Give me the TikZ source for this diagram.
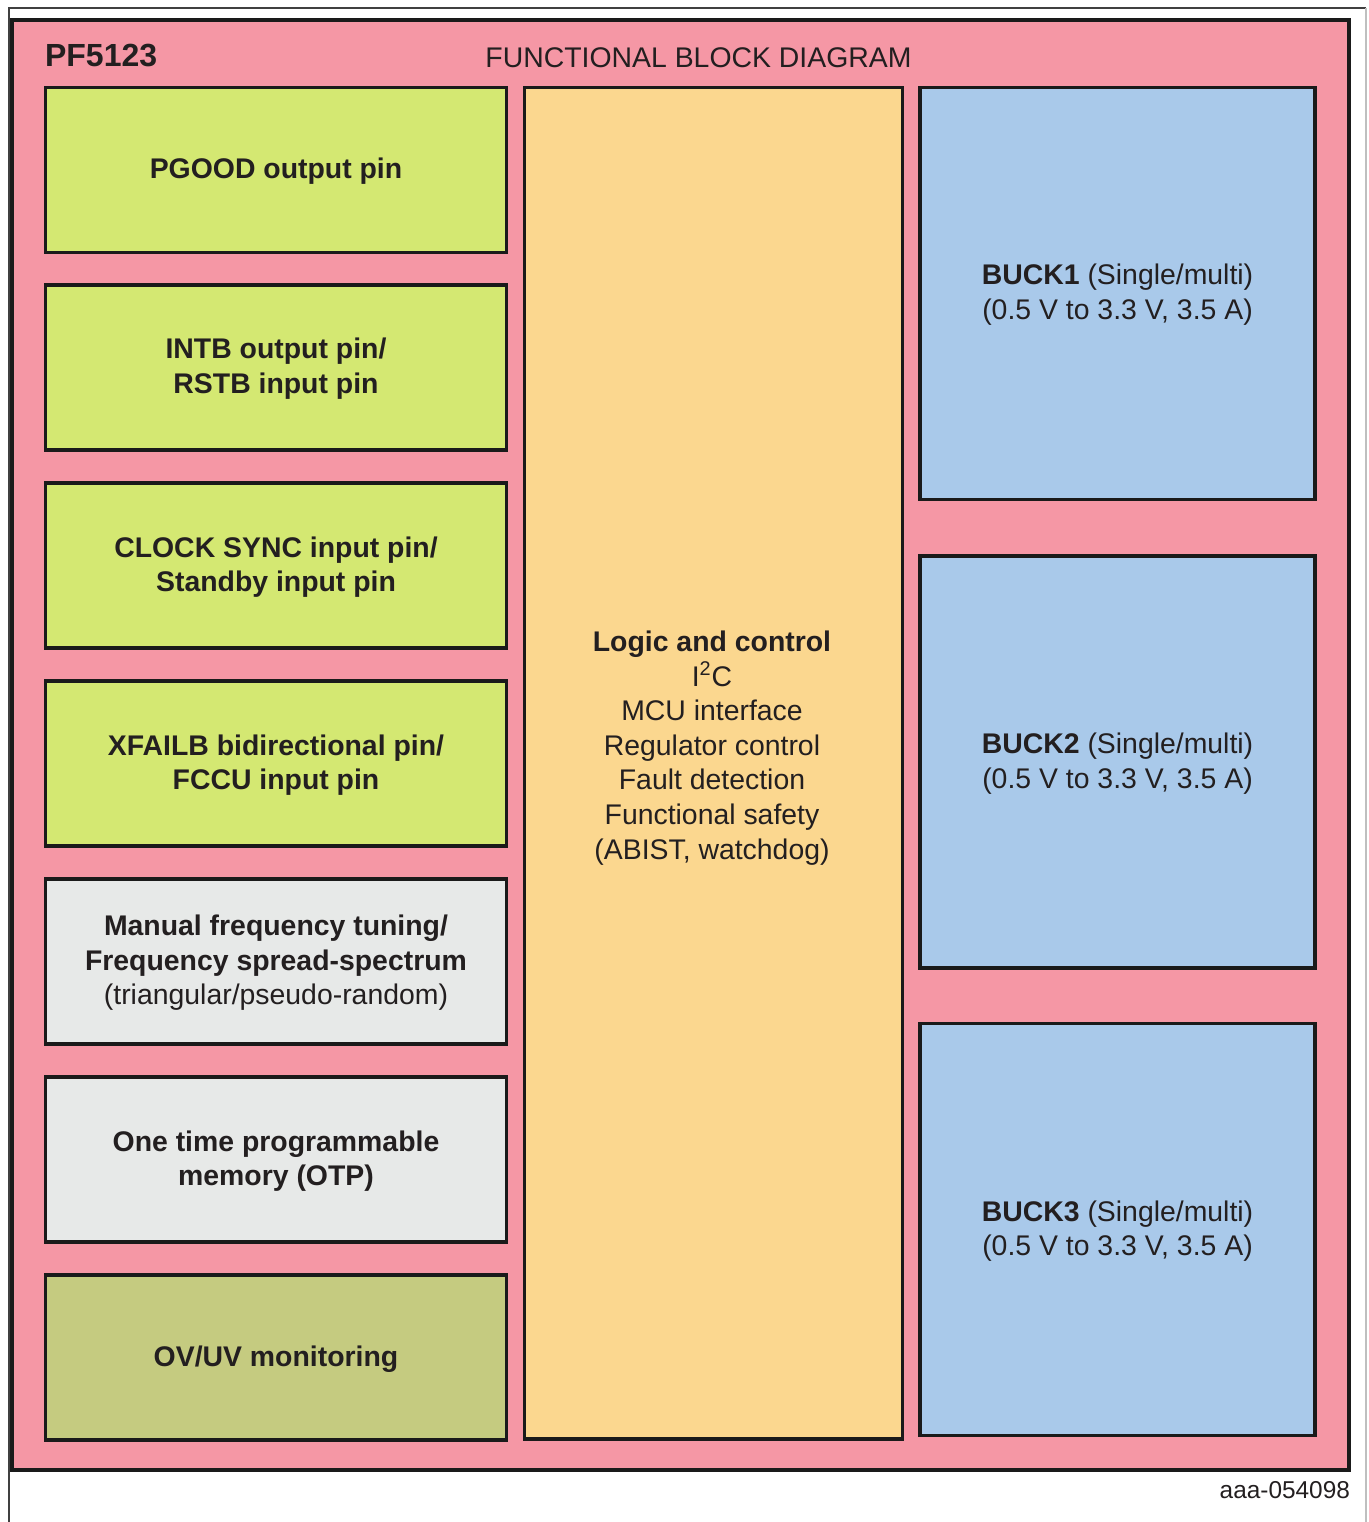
\documentclass[tikz,border=0pt]{standalone}
\usepackage{fontspec}
\setmainfont{Liberation Sans}
\usetikzlibrary{positioning,fit}

\definecolor{chippink}{HTML}{F597A5}
\definecolor{pingreen}{HTML}{D4E872}
\definecolor{logicorange}{HTML}{FBD78F}
\definecolor{buckblue}{HTML}{A9C9EA}
\definecolor{cfggrey}{HTML}{E7E9E8}
\definecolor{monolive}{HTML}{C5CB80}
\definecolor{edge}{HTML}{1A1A1A}
\definecolor{ink}{HTML}{231F20}

\tikzset{
  blk/.style={draw=edge,line width=1.6pt,inner sep=0pt,align=center,text=ink,
    font=\fontsize{14.2}{17.3}\selectfont,text depth=1.5pt},
  pinblk/.style={blk,fill=pingreen,minimum width=230.5pt,minimum height=82.5pt},
  cfgblk/.style={blk,fill=cfggrey,minimum width=230.5pt,minimum height=82.5pt},
  monblk/.style={blk,fill=monolive,minimum width=230.5pt,minimum height=82.5pt},
  buckblk/.style={blk,fill=buckblue,minimum width=197.5pt,minimum height=206pt},
  logicblk/.style={blk,fill=logicorange,minimum width=189pt,minimum height=675.75pt}
}

\begin{document}
\begin{tikzpicture}[x=0.5pt,y=-0.5pt]
\useasboundingbox (0,0) rectangle (1369,1522);

% frame of the figure
\draw[draw=black!75,line width=0.8pt] (9,1522) -- (9,8) -- (1366,8);
\draw[draw=black!25,line width=0.6pt] (1366,8) -- (1366,1522);

% chip outline
\node[draw=edge,line width=2pt,fill=chippink,inner sep=0pt,minimum width=668.25pt,minimum height=725pt] (chip) at (680.25,745) {};

\node[anchor=west,text=ink,font=\fontsize{16}{19}\selectfont\bfseries] (name) at (38,56) {PF5123};
\node[text=ink,font=\fontsize{14.2}{17}\selectfont] (title) at (698.5,58) {FUNCTIONAL BLOCK DIAGRAM};

% left column
\node[pinblk] (pgood) at (276,170) {\textbf{PGOOD output pin}};
\node[pinblk] (intb) at (276,367.5) {\textbf{INTB output pin/}\\\textbf{RSTB input pin}};
\node[pinblk] (sync) at (276,565.5) {\textbf{CLOCK SYNC input pin/}\\\textbf{Standby input pin}};
\node[pinblk] (xfail) at (276,763.5) {\textbf{XFAILB bidirectional pin/}\\\textbf{FCCU input pin}};
\node[cfgblk] (freq) at (276,961.5) {\textbf{Manual frequency tuning/}\\\textbf{Frequency spread-spectrum}\\(triangular/pseudo-random)};
\node[cfgblk] (otp) at (276,1159.5) {\textbf{One time programmable}\\\textbf{memory (OTP)}};
\node[monblk] (ovuv) at (276,1357.5) {\textbf{OV/UV monitoring}};

% middle column
\node[logicblk] (logic) at (713.5,763.25) {};
\node[align=center,text=ink,font=\fontsize{14.2}{17.3}\selectfont] (logictxt) at (712,748)
  {\textbf{Logic and control}\\I\textsuperscript{2}C\\MCU interface\\Regulator control\\Fault detection\\Functional safety\\(ABIST, watchdog)};

% right column
\node[buckblk] (buck1) at (1117.5,293.5) {\textbf{BUCK1} (Single/multi)\\(0.5 V to 3.3 V, 3.5 A)};
\node[buckblk] (buck2) at (1117.5,762) {\textbf{BUCK2} (Single/multi)\\(0.5 V to 3.3 V, 3.5 A)};
\node[buckblk] (buck3) at (1117.5,1229.75) {\textbf{BUCK3} (Single/multi)\\(0.5 V to 3.3 V, 3.5 A)};

\node[anchor=east,text=ink,font=\fontsize{12.2}{14}\selectfont] (docid) at (1357,1490) {aaa-054098};
\end{tikzpicture}
\end{document}
